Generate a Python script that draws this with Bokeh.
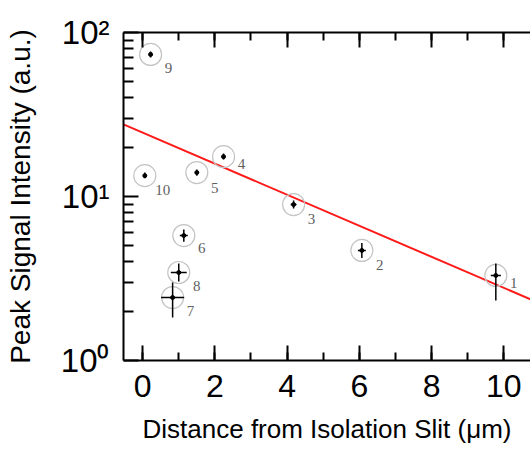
import math
from bokeh.plotting import figure
from bokeh.models import (ColumnDataSource, Range1d, LinearAxis, SingleIntervalTicker,
                          FixedTicker, CustomJSTickFormatter)
from bokeh.core.properties import value
from bokeh.embed import file_html
from bokeh.resources import INLINE

# ---- data ----
sample_id = ["1", "2", "3", "4", "5", "6", "7", "8", "9", "10"]
distance = [9.78, 6.07, 4.18, 2.24, 1.50, 1.14, 0.83, 1.00, 0.22, 0.06]
intensity = [3.30, 4.69, 8.93, 17.5, 14.0, 5.78, 2.42, 3.44, 73.5, 13.4]
intensity_low = [2.32, 4.22, 8.45, 16.8, 13.4, 5.30, 1.83, 3.03, 70.4, 12.9]
intensity_high = [3.90, 5.21, 9.44, 18.3, 14.6, 6.30, 2.99, 3.91, 76.6, 14.0]
distance_err = [0.14, 0.11, 0.08, 0.05, 0.05, 0.11, 0.32, 0.22, 0.05, 0.05]

fit_amplitude = 24.5       # a.u. at x = 0
fit_decay_length = 4.59    # um

y_ticks = [1, 10, 100]
y_tick_labels = ["10\u2070", "10\u00b9", "10\u00b2"]

# label vertical nudges (pixels)
label_dy = [8, 15, 14, 7, 15, 12, 13, 13, 14, 14]

X_MIN, X_MAX = -0.53, 10.74

src = ColumnDataSource(dict(
    x=distance, y=intensity, lo=intensity_low, hi=intensity_high,
    xl=[d - e for d, e in zip(distance, distance_err)],
    xh=[d + e for d, e in zip(distance, distance_err)],
    lab=sample_id, dy=label_dy,
))

fit_x = [X_MIN, X_MAX]
fit_y = [fit_amplitude * math.exp(-xx / fit_decay_length) for xx in fit_x]

p = figure(width=530, height=450, output_backend="svg", toolbar_location=None,
           y_axis_type="log",
           x_range=Range1d(X_MIN, X_MAX), y_range=Range1d(1, 100),
           min_border_left=123, min_border_right=0, min_border_top=32,
           min_border_bottom=90, outline_line_color=None)
p.grid.visible = False
p.background_fill_color = "white"
p.border_fill_color = "white"

FONT = "Liberation Sans"

# x axis (bottom)
xa = p.xaxis[0]
xa.ticker = SingleIntervalTicker(interval=2, num_minor_ticks=2)
xa.axis_label = "Distance from Isolation Slit (\u03bcm)"
xa.axis_line_width = 2
xa.major_tick_in = 15
xa.major_tick_out = 0
xa.minor_tick_in = 8
xa.minor_tick_out = 0
xa.major_tick_line_width = 2
xa.minor_tick_line_width = 2
xa.major_label_text_font = FONT
xa.major_label_text_font_size = "32px"
xa.major_label_text_color = "black"
xa.major_label_standoff = 14
xa.axis_label_text_font = FONT
xa.axis_label_text_font_size = "26px"
xa.axis_label_text_font_style = "normal"
xa.axis_label_text_color = "black"
xa.axis_label_standoff = 14

# top axis (ticks only)
ta = LinearAxis(ticker=SingleIntervalTicker(interval=2, num_minor_ticks=2),
                formatter=CustomJSTickFormatter(code="return ''"),
                axis_line_width=2,
                major_tick_in=15, major_tick_out=0, minor_tick_in=8, minor_tick_out=0,
                major_tick_line_width=2, minor_tick_line_width=2,
                major_label_standoff=0)
p.add_layout(ta, "above")

# y axis (left)
ya = p.yaxis[0]
ya.ticker = FixedTicker(ticks=y_ticks,
                        minor_ticks=[m * d for d in [1, 10] for m in range(2, 10)])
ya.formatter = CustomJSTickFormatter(
    args=dict(vals=y_ticks, labs=y_tick_labels),
    code="""
    for (let i = 0; i < vals.length; i++) {
        if (Math.abs(tick - vals[i]) < 1e-6 * vals[i]) return labs[i];
    }
    return "";
    """)
ya.axis_label = "Peak Signal Intensity (a.u.)"
ya.axis_line_width = 2
ya.major_tick_in = 15
ya.major_tick_out = 0
ya.minor_tick_in = 10
ya.minor_tick_out = 0
ya.major_tick_line_width = 2
ya.minor_tick_line_width = 2
ya.major_label_text_font = FONT
ya.major_label_text_font_size = "33px"
ya.major_label_text_color = "black"
ya.major_label_standoff = 14
ya.axis_label_text_font = FONT
ya.axis_label_text_font_size = "28px"
ya.axis_label_text_font_style = "normal"
ya.axis_label_text_color = "black"
ya.axis_label_standoff = 22

# fit line
p.line(fit_x, fit_y, line_color="#ff1a1a", line_width=2)

# circles around points
p.scatter("x", "y", source=src, marker="circle", size=22, fill_color=None,
          line_color="#c4c4c4", line_width=1.2)

# error bars
p.segment(x0="x", y0="lo", x1="x", y1="hi", source=src, line_color="black", line_width=1.5)
p.segment(x0="xl", y0="y", x1="xh", y1="y", source=src, line_color="black", line_width=1.5)
p.scatter("x", "y", source=src, marker="circle", size=4, fill_color="black", line_color="black")

# labels
p.text("x", "y", text="lab", source=src, x_offset=18, y_offset="dy",
       text_align="center", text_baseline="middle",
       text_font=value("Liberation Serif"), text_font_size="15px", text_color="#606060")

open("out.html", "w").write(file_html(p, INLINE))
